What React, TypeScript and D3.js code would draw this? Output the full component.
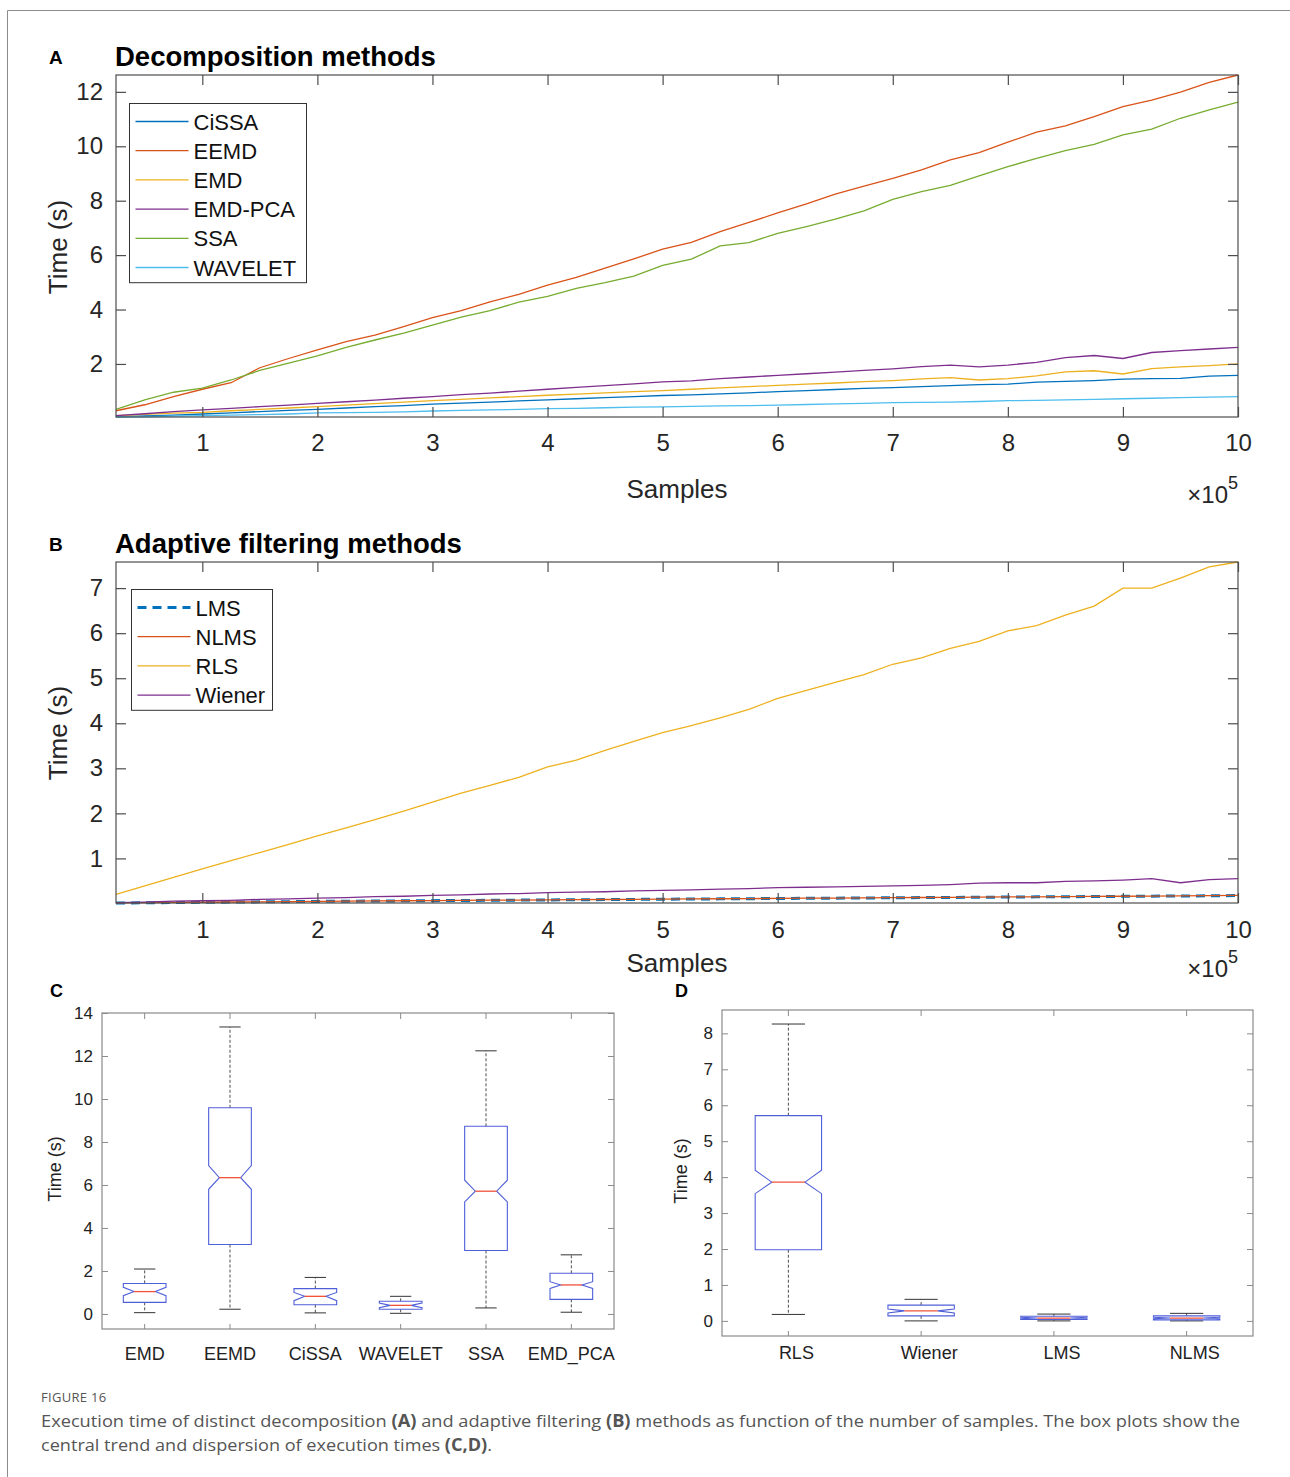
import React, { useEffect, useRef } from 'react';
import * as d3 from 'd3';

// number of samples (x axis of panels A and B)
const samples = [
  25000, 50000, 75000, 100000, 125000, 150000, 175000, 200000, 225000, 250000,
  275000, 300000, 325000, 350000, 375000, 400000, 425000, 450000, 475000, 500000,
  525000, 550000, 575000, 600000, 625000, 650000, 675000, 700000, 725000, 750000,
  775000, 800000, 825000, 850000, 875000, 900000, 925000, 950000, 975000, 1000000,
];

// Panel A - decomposition methods, time (s)
const cissaTime = [
  0.06, 0.09, 0.12, 0.16, 0.2, 0.25, 0.29, 0.33, 0.38, 0.43,
  0.47, 0.52, 0.56, 0.6, 0.64, 0.68, 0.72, 0.76, 0.8, 0.84,
  0.86, 0.9, 0.94, 0.98, 1.02, 1.06, 1.1, 1.13, 1.17, 1.2,
  1.24, 1.26, 1.33, 1.36, 1.39, 1.44, 1.46, 1.47, 1.55, 1.58,
];
const eemdTime = [
  0.28, 0.5, 0.8, 1.07, 1.31, 1.86, 2.2, 2.52, 2.82, 3.06,
  3.37, 3.7, 3.96, 4.28, 4.56, 4.9, 5.18, 5.52, 5.86, 6.22,
  6.47, 6.86, 7.2, 7.55, 7.88, 8.24, 8.54, 8.82, 9.13, 9.5,
  9.77, 10.15, 10.52, 10.75, 11.09, 11.46, 11.7, 11.99, 12.35, 12.62,
];
const emdTime = [
  0.1, 0.15, 0.19, 0.22, 0.28, 0.33, 0.38, 0.43, 0.49, 0.54,
  0.6, 0.65, 0.7, 0.75, 0.8, 0.85, 0.89, 0.94, 0.98, 1.02,
  1.07, 1.12, 1.17, 1.21, 1.26, 1.3, 1.35, 1.39, 1.45, 1.5,
  1.41, 1.46, 1.56, 1.71, 1.75, 1.63, 1.83, 1.89, 1.94, 2.0,
];
const emdPcaTime = [
  0.1, 0.17, 0.25, 0.31, 0.37, 0.43, 0.49, 0.55, 0.61, 0.67,
  0.74, 0.8, 0.87, 0.93, 1.0, 1.07, 1.14, 1.2, 1.27, 1.34,
  1.38, 1.46, 1.52, 1.58, 1.64, 1.7, 1.76, 1.82, 1.9, 1.96,
  1.89, 1.96, 2.06, 2.23, 2.31, 2.2, 2.42, 2.49, 2.55, 2.61,
];
const ssaTime = [
  0.33, 0.68, 0.96, 1.11, 1.41, 1.76, 2.03, 2.3, 2.61, 2.88,
  3.13, 3.43, 3.72, 3.96, 4.27, 4.48, 4.78, 4.99, 5.23, 5.62,
  5.85, 6.34, 6.46, 6.8, 7.05, 7.32, 7.63, 8.05, 8.33, 8.56,
  8.91, 9.25, 9.56, 9.84, 10.07, 10.42, 10.63, 11.03, 11.34, 11.62,
];
const waveletTime = [
  0.05, 0.06, 0.08, 0.1, 0.12, 0.14, 0.16, 0.2, 0.21, 0.22,
  0.24, 0.27, 0.29, 0.31, 0.33, 0.36, 0.37, 0.39, 0.41, 0.42,
  0.44, 0.46, 0.47, 0.49, 0.51, 0.53, 0.55, 0.58, 0.59, 0.6,
  0.62, 0.65, 0.66, 0.68, 0.7, 0.72, 0.74, 0.76, 0.78, 0.8,
];

// Panel B - adaptive filtering methods, time (s)
const lmsTime = [
  0.01, 0.015, 0.02, 0.025, 0.03, 0.035, 0.04, 0.045, 0.05, 0.054,
  0.058, 0.062, 0.066, 0.07, 0.074, 0.078, 0.082, 0.086, 0.09, 0.094,
  0.098, 0.102, 0.106, 0.11, 0.114, 0.118, 0.122, 0.126, 0.13, 0.134,
  0.138, 0.142, 0.146, 0.15, 0.154, 0.158, 0.162, 0.166, 0.17, 0.175,
];
const nlmsTime = [
  0.012, 0.017, 0.022, 0.027, 0.032, 0.037, 0.042, 0.047, 0.052, 0.056,
  0.06, 0.064, 0.068, 0.072, 0.076, 0.08, 0.084, 0.088, 0.092, 0.096,
  0.1, 0.104, 0.108, 0.112, 0.116, 0.12, 0.124, 0.128, 0.132, 0.136,
  0.14, 0.144, 0.148, 0.152, 0.156, 0.16, 0.164, 0.168, 0.173, 0.18,
];
const rlsTime = [
  0.2, 0.39, 0.58, 0.77, 0.95, 1.13, 1.31, 1.5, 1.68, 1.86,
  2.05, 2.25, 2.45, 2.62, 2.8, 3.03, 3.18, 3.4, 3.6, 3.79,
  3.95, 4.12, 4.31, 4.55, 4.73, 4.91, 5.08, 5.31, 5.45, 5.66,
  5.82, 6.05, 6.17, 6.4, 6.6, 7.0, 7.0, 7.22, 7.47, 7.58,
];
const wienerTime = [
  0.02, 0.03, 0.05, 0.06, 0.07, 0.09, 0.1, 0.12, 0.13, 0.15,
  0.16, 0.18, 0.19, 0.21, 0.22, 0.24, 0.25, 0.26, 0.28, 0.29,
  0.3, 0.32, 0.33, 0.35, 0.36, 0.37, 0.38, 0.39, 0.4, 0.42,
  0.45, 0.46, 0.46, 0.49, 0.5, 0.52, 0.55, 0.46, 0.53, 0.55,
];

const xTickValues = [100000, 200000, 300000, 400000, 500000, 600000, 700000, 800000, 900000, 1000000];
const yTicksA = [2, 4, 6, 8, 10, 12];
const yTicksB = [1, 2, 3, 4, 5, 6, 7];

// Panel C - box plots of decomposition methods
const decompMethods = ['EMD', 'EEMD', 'CiSSA', 'WAVELET', 'SSA', 'EMD_PCA'];
const decompLower = [0.06, 0.22, 0.05, 0.03, 0.28, 0.08];
const decompQ1 = [0.54, 3.23, 0.43, 0.22, 2.95, 0.68];
const decompMedian = [1.04, 6.34, 0.82, 0.4, 5.71, 1.35];
const decompQ3 = [1.42, 9.59, 1.18, 0.59, 8.73, 1.89];
const decompUpper = [2.09, 13.35, 1.7, 0.82, 12.24, 2.75];
const decompNotchLo = [0.85, 5.8, 0.62, 0.29, 5.21, 1.19];
const decompNotchHi = [1.24, 6.9, 1.0, 0.51, 6.22, 1.5];
const yTicksC = [0, 2, 4, 6, 8, 10, 12, 14];

// Panel D - box plots of adaptive filtering methods
const filterMethods = ['RLS', 'Wiener', 'LMS', 'NLMS'];
const filterLower = [0.18, 0.0, 0.0, 0.0];
const filterQ1 = [1.98, 0.14, 0.04, 0.03];
const filterMedian = [3.86, 0.28, 0.08, 0.08];
const filterQ3 = [5.71, 0.44, 0.13, 0.14];
const filterUpper = [8.26, 0.6, 0.19, 0.21];
const filterNotchLo = [3.54, 0.22, 0.06, 0.06];
const filterNotchHi = [4.19, 0.33, 0.1, 0.1];
const yTicksD = [0, 1, 2, 3, 4, 5, 6, 7, 8];

const FONT = "'Liberation Sans', Arial, Helvetica, sans-serif";
const NARROW = "'Liberation Sans Narrow', 'Arial Narrow', 'Liberation Sans', sans-serif";
const AXIS_COLOR = '#4d4d4d';

type Series = { name: string; values: number[]; color: string; width: number; dash?: string };

function drawLinePanel(svg: any, cfg: any) {
  const { left, right, top, bottom, yDomain, yTicks, series, letter, title, legend, xLabelY, yLabelY, xPad } = cfg;

  const x = d3.scaleLinear().domain([samples[0], samples[samples.length - 1]]).range([left, right]);
  const y = d3.scaleLinear().domain(yDomain).range([bottom, top]);

  const g = svg.append('g');

  // panel letter and title
  g.append('text').attr('x', 49).attr('y', top - 11).text(letter)
    .attr('font-family', FONT).attr('font-weight', 'bold').attr('font-size', 19);
  g.append('text').attr('x', left - 1).attr('y', top - 9).text(title)
    .attr('font-family', FONT).attr('font-weight', 'bold').attr('font-size', 27.5);

  // lines
  const line = d3.line<number>().x((_, i) => x(samples[i])).y(d => y(d));
  series.forEach((s: Series) => {
    g.append('path').datum(s.values)
      .attr('d', line)
      .attr('fill', 'none')
      .attr('stroke', s.color)
      .attr('stroke-width', s.width)
      .attr('stroke-dasharray', s.dash || null);
  });

  // axes with inward ticks on all four sides
  const styleAxis = (a: any) => {
    a.select('.domain').remove();
    a.selectAll('line').attr('stroke', AXIS_COLOR).attr('stroke-width', 1.2);
    a.attr('font-family', FONT).attr('font-size', 24);
    a.selectAll('text').attr('fill', '#262626');
  };
  g.append('g').attr('transform', `translate(0,${bottom})`)
    .call(d3.axisBottom(x).tickValues(xTickValues).tickFormat((d: any) => String(d / 1e5)).tickSize(-10).tickPadding(xPad))
    .call(styleAxis);
  g.append('g').attr('transform', `translate(0,${top})`)
    .call(d3.axisTop(x).tickValues(xTickValues).tickFormat(() => '').tickSize(-10))
    .call(styleAxis);
  g.append('g').attr('transform', `translate(${left},0)`)
    .call(d3.axisLeft(y).tickValues(yTicks).tickFormat(d3.format('d')).tickSize(-10).tickPadding(13))
    .call(styleAxis);
  g.append('g').attr('transform', `translate(${right},0)`)
    .call(d3.axisRight(y).tickValues(yTicks).tickFormat(() => '').tickSize(-10))
    .call(styleAxis);

  g.append('rect').attr('x', left).attr('y', top).attr('width', right - left).attr('height', bottom - top)
    .attr('fill', 'none').attr('stroke', AXIS_COLOR).attr('stroke-width', 1.2);

  // axis labels
  g.append('text').attr('x', (left + right) / 2).attr('y', xLabelY).attr('text-anchor', 'middle')
    .attr('font-family', FONT).attr('font-size', 26).attr('fill', '#262626').text('Samples');
  const exp = g.append('text').attr('x', right).attr('y', xLabelY + 5).attr('text-anchor', 'end')
    .attr('font-family', FONT).attr('font-size', 24).attr('fill', '#262626');
  exp.append('tspan').text('×10');
  exp.append('tspan').attr('dy', -14).attr('font-size', 18).text('5');
  g.append('text').attr('transform', `translate(67,${yLabelY}) rotate(-90)`).attr('text-anchor', 'middle')
    .attr('font-family', FONT).attr('font-size', 26).attr('fill', '#262626').text('Time (s)');

  // legend
  const lg = g.append('g');
  lg.append('rect').attr('x', legend.x).attr('y', legend.y).attr('width', legend.w)
    .attr('height', series.length * 29.2 + 4)
    .attr('fill', '#fff').attr('stroke', '#333').attr('stroke-width', 1);
  series.forEach((s: Series, i: number) => {
    const cy = legend.y + 18 + i * 29.2;
    lg.append('line').attr('x1', legend.x + 6).attr('x2', legend.x + 59).attr('y1', cy).attr('y2', cy)
      .attr('stroke', s.color).attr('stroke-width', s.dash ? 3 : 1.3).attr('stroke-dasharray', s.dash || null);
    lg.append('text').attr('x', legend.x + 64).attr('y', cy + 8).text(s.name)
      .attr('font-family', FONT).attr('font-size', 22).attr('fill', '#111');
  });
}

function drawBoxPanel(svg: any, cfg: any) {
  const { left, right, top, bottom, yDomain, yTicks, cats, lower, q1, med, q3, upper, nlo, nhi, letter, yLabelX, labelPad, labelDx } = cfg;

  const x = d3.scaleBand().domain(cats).range([left, right]).padding(0);
  const y = d3.scaleLinear().domain(yDomain).range([bottom, top]);
  const bw = x.bandwidth();

  const g = svg.append('g');
  g.append('text').attr('x', letter.x).attr('y', letter.y).text(letter.t)
    .attr('font-family', FONT).attr('font-weight', 'bold').attr('font-size', 18);

  const styleAxis = (a: any) => {
    a.select('.domain').remove();
    a.selectAll('line').attr('stroke', '#8a8a8a').attr('stroke-width', 1);
    a.attr('font-family', NARROW).attr('font-size', 17);
    a.selectAll('text').attr('fill', '#222');
  };
  g.append('g').attr('transform', `translate(${left},0)`)
    .call(d3.axisLeft(y).tickValues(yTicks).tickFormat(d3.format('d')).tickSize(-6).tickPadding(9))
    .call(styleAxis);
  g.append('g').attr('transform', `translate(${right},0)`)
    .call(d3.axisRight(y).tickValues(yTicks).tickFormat(() => '').tickSize(-6))
    .call(styleAxis);
  g.append('g').attr('transform', `translate(0,${bottom})`)
    .call(d3.axisBottom(x).tickSize(-5).tickPadding(labelPad))
    .call(styleAxis)
    .call((a: any) => a.attr('font-size', 18).selectAll('text').attr('dx', labelDx));
  g.append('g').attr('transform', `translate(0,${top})`)
    .call(d3.axisTop(x).tickFormat(() => '').tickSize(-6))
    .call(styleAxis);

  g.append('rect').attr('x', left).attr('y', top).attr('width', right - left).attr('height', bottom - top)
    .attr('fill', 'none').attr('stroke', '#8a8a8a').attr('stroke-width', 1.2);

  g.append('text').attr('transform', `translate(${yLabelX},${(top + bottom) / 2 - 2}) rotate(-90)`)
    .attr('text-anchor', 'middle').attr('font-family', NARROW).attr('font-size', 18).attr('fill', '#222')
    .text('Time (s)');

  cats.forEach((c: string, i: number) => {
    const cx = (x(c) as number) + bw / 2;
    const hw = bw * 0.25;
    const inset = hw * 0.5;
    const cap = bw * 0.125;
    // whiskers
    g.append('line').attr('x1', cx).attr('x2', cx).attr('y1', y(q3[i])).attr('y2', y(upper[i]))
      .attr('stroke', '#222').attr('stroke-width', 0.8).attr('stroke-dasharray', '3,2');
    g.append('line').attr('x1', cx).attr('x2', cx).attr('y1', y(q1[i])).attr('y2', y(lower[i]))
      .attr('stroke', '#222').attr('stroke-width', 0.8).attr('stroke-dasharray', '3,2');
    [upper[i], lower[i]].forEach(v => {
      g.append('line').attr('x1', cx - cap).attr('x2', cx + cap).attr('y1', y(v)).attr('y2', y(v))
        .attr('stroke', '#333').attr('stroke-width', 1);
    });
    // notched box
    const pts: [number, number][] = [
      [cx - hw, y(q1[i])], [cx - hw, y(nlo[i])], [cx - hw + inset, y(med[i])], [cx - hw, y(nhi[i])],
      [cx - hw, y(q3[i])], [cx + hw, y(q3[i])], [cx + hw, y(nhi[i])], [cx + hw - inset, y(med[i])],
      [cx + hw, y(nlo[i])], [cx + hw, y(q1[i])],
    ];
    g.append('path').attr('d', d3.line()(pts) + 'Z')
      .attr('fill', 'none').attr('stroke', '#4f5fd8').attr('stroke-width', 1.1);
    g.append('line').attr('x1', cx - hw + inset).attr('x2', cx + hw - inset).attr('y1', y(med[i])).attr('y2', y(med[i]))
      .attr('stroke', '#f0523a').attr('stroke-width', 1.3);
  });
}

const App = () => {
  const ref = useRef<SVGSVGElement>(null);

  useEffect(() => {
    const svg = d3.select(ref.current);
    svg.selectAll('*').remove();

    svg.append('rect').attr('width', 1290).attr('height', 1477).attr('fill', '#fff');
    // figure frame
    svg.append('path').attr('d', 'M7.5,1477 V10.5 H1290').attr('fill', 'none').attr('stroke', '#8c8c8c').attr('stroke-width', 1);

    drawLinePanel(svg, {
      left: 116, right: 1238, top: 75, bottom: 417,
      yDomain: [0.05, 12.62], yTicks: yTicksA,
      letter: 'A', title: 'Decomposition methods',
      legend: { x: 129.5, y: 103.5, w: 177 },
      xLabelY: 498, yLabelY: 247, xPad: 17,
      series: [
        { name: 'CiSSA', values: cissaTime, color: '#0072BD', width: 1.3 },
        { name: 'EEMD', values: eemdTime, color: '#D95319', width: 1.3 },
        { name: 'EMD', values: emdTime, color: '#EDB120', width: 1.3 },
        { name: 'EMD-PCA', values: emdPcaTime, color: '#7E2F8E', width: 1.3 },
        { name: 'SSA', values: ssaTime, color: '#77AC30', width: 1.3 },
        { name: 'WAVELET', values: waveletTime, color: '#4DBEEE', width: 1.3 },
      ],
    });

    drawLinePanel(svg, {
      left: 116, right: 1238, top: 562, bottom: 903,
      yDomain: [0.01, 7.58], yTicks: yTicksB,
      letter: 'B', title: 'Adaptive filtering methods',
      legend: { x: 131.5, y: 589.5, w: 141 },
      xLabelY: 972, yLabelY: 733, xPad: 18,
      series: [
        { name: 'LMS', values: lmsTime, color: '#0072BD', width: 3, dash: '9,6' },
        { name: 'NLMS', values: nlmsTime, color: '#D95319', width: 1.3 },
        { name: 'RLS', values: rlsTime, color: '#EDB120', width: 1.3 },
        { name: 'Wiener', values: wienerTime, color: '#7E2F8E', width: 1.3 },
      ],
    });

    drawBoxPanel(svg, {
      left: 102, right: 614, top: 1013, bottom: 1329,
      yDomain: [-0.7, 14], yTicks: yTicksC,
      cats: decompMethods, lower: decompLower, q1: decompQ1, med: decompMedian,
      q3: decompQ3, upper: decompUpper, nlo: decompNotchLo, nhi: decompNotchHi,
      letter: { x: 50, y: 997, t: 'C' }, yLabelX: 61, labelPad: 18, labelDx: 0,
    });

    drawBoxPanel(svg, {
      left: 722, right: 1253, top: 1010, bottom: 1336,
      yDomain: [-0.42, 8.65], yTicks: yTicksD,
      cats: filterMethods, lower: filterLower, q1: filterQ1, med: filterMedian,
      q3: filterQ3, upper: filterUpper, nlo: filterNotchLo, nhi: filterNotchHi,
      letter: { x: 675, y: 997, t: 'D' }, yLabelX: 687, labelPad: 10, labelDx: 8,
    });

    // caption
    const cap = svg.append('g').attr('font-family', "'Open Sans', 'Noto Sans', sans-serif").attr('fill', '#555');
    cap.append('text').attr('x', 41).attr('y', 1402).attr('font-size', 13).attr('letter-spacing', 0.3).text('FIGURE 16');
    const l1 = cap.append('text').attr('x', 41).attr('y', 1427).attr('font-size', 17)
      .attr('textLength', 1199).attr('lengthAdjust', 'spacingAndGlyphs');
    l1.append('tspan').text('Execution time of distinct decomposition ');
    l1.append('tspan').attr('font-weight', 'bold').text('(A)');
    l1.append('tspan').text(' and adaptive filtering ');
    l1.append('tspan').attr('font-weight', 'bold').text('(B)');
    l1.append('tspan').text(' methods as function of the number of samples. The box plots show the');
    const l2 = cap.append('text').attr('x', 41).attr('y', 1451).attr('font-size', 17)
      .attr('textLength', 451).attr('lengthAdjust', 'spacingAndGlyphs');
    l2.append('tspan').text('central trend and dispersion of execution times ');
    l2.append('tspan').attr('font-weight', 'bold').text('(C,D)');
    l2.append('tspan').text('.');
  }, []);

  return (
    <svg ref={ref} width={1290} height={1477}
      style={{ position: 'absolute', left: 0, top: 0, display: 'block' }} />
  );
};

export default App;
